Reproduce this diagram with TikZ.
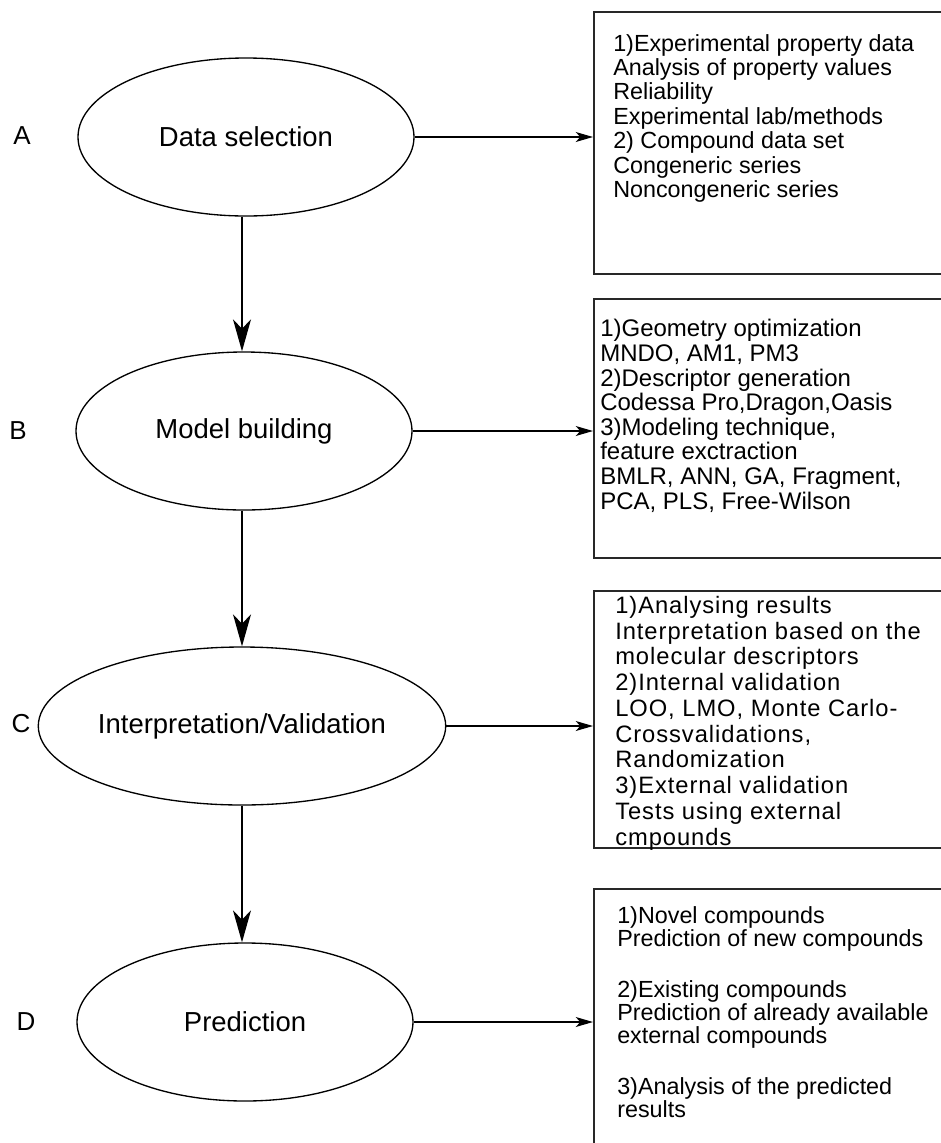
\documentclass[tikz,border=0pt]{standalone}
\usepackage{fontspec}
\setmainfont{Liberation Sans}
\newfontfamily\widefont[LetterSpace=4]{Liberation Sans}
\usetikzlibrary{arrows.meta,shapes.geometric}

\tikzset{
  stage/.style={draw, ellipse, line width=1pt, minimum width=252pt, minimum height=118.5pt, inner sep=0pt, font=\fontsize{20.6}{24}\selectfont},
  infobox/.style={draw, rectangle, line width=1.2pt, color={rgb, 255:red, 40; green, 40; blue, 40 }, minimum width=263pt, inner sep=0pt, anchor=north west},
  infotext/.style={anchor=north west, align=left, inner sep=0pt, font=\fontsize{17.5}{18.3}\selectfont},
  steplabel/.style={inner sep=0pt, font=\fontsize{19.5}{22}\selectfont},
  down/.style={line width=1.1pt, -{Stealth[length=24pt, width=13.5pt, inset=7pt]}},
  across/.style={line width=1pt, -{Stealth[length=13pt, width=7.5pt, inset=3.5pt]}}
}

\begin{document}
\begin{tikzpicture}[x=0.75pt,y=0.75pt,yscale=-1,xscale=1]
\useasboundingbox (0,0) rectangle (941,1143);
\clip (0,0) rectangle (941,1143);

%Shape: Ellipse
\node [stage] (sel) at (246,137) {Data selection};
\node [stage] (build) at (244,431) {Model building};
\node [stage] (valid) at (242,726) {Interpretation/Validation};
\node [stage] (pred) at (245,1022) {Prediction};

% Text Node
\node [steplabel] (labA) at (22,136) {A};
\node [steplabel] (labB) at (18,431) {B};
\node [steplabel] (labC) at (21,724) {C};
\node [steplabel] (labD) at (26,1022) {D};

%Shape: Rectangle
\node [infobox, minimum height=196.5pt] (boxA) at (593,11) {};
\node [infobox, minimum height=194.25pt] (boxB) at (593,298) {};
\node [infobox, minimum height=192.75pt] (boxC) at (593,590) {};
\node [infobox, minimum height=210pt] (boxD) at (593,888) {};

% Text Node
\node [infotext] (txtA) at (613,34) {1)Experimental property data\\Analysis of property values\\Reliability\\Experimental lab/methods\\2) Compound data set\\Congeneric series\\Noncongeneric series};
% Text Node
\node [infotext, font=\fontsize{18}{18.5}\selectfont] (txtB) at (600,319) {1)Geometry optimization\\MNDO, AM1, PM3\\2)Descriptor generation\\Codessa Pro,Dragon,Oasis\\3)Modeling technique,\\feature exctraction\\BMLR, ANN, GA, Fragment,\\PCA, PLS, Free-Wilson};
% Text Node
\node [infotext, font=\widefont\fontsize{17.8}{19.3}\selectfont] (txtC) at (615,596) {1)Analysing results\\Interpretation based on the\\molecular descriptors\\2)Internal validation\\LOO, LMO, Monte Carlo-\\Crossvalidations,\\Randomization\\3)External validation\\Tests using external\\cmpounds};
% Text Node
\node [infotext, font=\fontsize{17.5}{17.2}\selectfont] (txtD) at (617,906) {1)Novel compounds\\Prediction of new compounds\\[21.3pt]2)Existing compounds\\Prediction of already available\\external compounds\\[21.3pt]3)Analysis of the predicted\\results};

%Straight Lines
\draw [down] (sel.south -| 242,0) -- (build.north -| 242,0);
\draw [down] (build.south -| 242,0) -- (valid.north -| 242,0);
\draw [down] (valid.south -| 242,0) -- (pred.north -| 242,0);

%Straight Lines
\draw [across] (sel.east) -- (sel.east -| boxA.west);
\draw [across] (build.east) -- (build.east -| boxB.west);
\draw [across] (valid.east) -- (valid.east -| boxC.west);
\draw [across] (pred.east) -- (pred.east -| boxD.west);

\end{tikzpicture}
\end{document}
